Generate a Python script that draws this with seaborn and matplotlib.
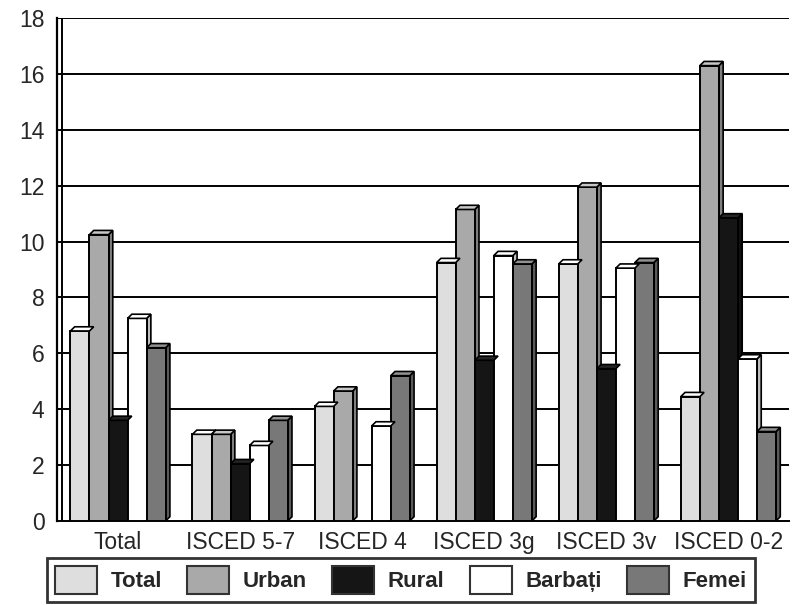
import numpy as np
import pandas as pd
import seaborn as sns
import matplotlib.pyplot as plt
from matplotlib.patches import Polygon
from matplotlib.colors import to_rgb

categories = ["Total", "ISCED 5-7", "ISCED 4", "ISCED 3g", "ISCED 3v", "ISCED 0-2"]
series = ["Total", "Urban", "Rural", "Barbați", "Femei"]
total = [6.8, 3.1, 4.1, 9.25, 9.2, 4.45]
urban = [10.25, 3.1, 4.65, 11.15, 11.95, 16.3]
rural = [3.6, 2.05, np.nan, 5.75, 5.45, 10.85]
barbati = [7.25, 2.7, 3.4, 9.5, 9.05, 5.8]
femei = [6.2, 3.6, 5.2, 9.2, 9.25, 3.2]
colors = ["#dedede", "#a9a9a9", "#151515", "#ffffff", "#787878"]

rows = []
for name, vals in zip(series, [total, urban, rural, barbati, femei]):
    for cat, v in zip(categories, vals):
        rows.append({"cat": cat, "serie": name, "val": v})
df = pd.DataFrame(rows)

sns.set_style("white")
plt.rcParams["font.family"] = ["Liberation Sans", "DejaVu Sans"]

fig = plt.figure(figsize=(7.97, 6.05), dpi=100)
ax = fig.add_axes([0.0715, 0.139, 0.919, 0.831])

sns.barplot(data=df, x="cat", y="val", hue="serie", order=categories,
            hue_order=series, palette=colors, width=0.78, saturation=1,
            edgecolor="black", linewidth=1.4, ax=ax, legend=False, zorder=3)

# gridlines on the back wall
for yv in range(2, 19, 2):
    ax.axhline(yv, color="black", lw=1.4, zorder=1)

# fake 3D: side and top faces derived from each drawn bar
dx, dy = 0.035, 0.15
for p in list(ax.patches):
    h = p.get_height()
    if not np.isfinite(h) or h == 0:
        continue
    x0, w = p.get_x(), p.get_width()
    c = np.array(to_rgb(p.get_facecolor()))
    side = Polygon([(x0 + w, 0), (x0 + w + dx, dy), (x0 + w + dx, h + dy), (x0 + w, h)],
                   closed=True, facecolor=c * 0.75, edgecolor="black", lw=1.2, zorder=2.9)
    top = Polygon([(x0, h), (x0 + dx, h + dy), (x0 + w + dx, h + dy), (x0 + w, h)],
                  closed=True, facecolor=np.minimum(c * 1.1 + 0.05, 1), edgecolor="black",
                  lw=1.2, zorder=3.1)
    ax.add_patch(side)
    ax.add_patch(top)

# back wall edge next to the y axis
ax.axvline(-0.5 + dx * 1.2, color="black", lw=1.4, zorder=1)

ax.set_xlim(-0.5, 5.5)
ax.set_ylim(0, 18)
ax.set_yticks(range(0, 19, 2))
ax.set_xticks(range(len(categories)))
ax.set_xticklabels(categories)
ax.set_xticks(np.arange(0.5, 5.5, 1), minor=True)
ax.tick_params(axis="x", which="major", length=0, labelsize=16.5, pad=7)
ax.tick_params(axis="x", which="minor", length=7, width=1.4, direction="out")
ax.tick_params(axis="y", length=6, width=1.4, direction="out", labelsize=16.5, pad=3)
ax.set_xlabel("")
ax.set_ylabel("")
for s in ["top", "right"]:
    ax.spines[s].set_visible(False)
ax.spines["left"].set_linewidth(1.6)
ax.spines["bottom"].set_linewidth(1.4)
ax.spines["left"].set_color("black")
ax.spines["bottom"].set_color("black")

handles = [plt.Rectangle((0, 0), 1, 1, facecolor=c, edgecolor="#333333", lw=1.5) for c in colors]
leg = fig.legend(handles, series, loc="upper left", ncol=5, mode="expand",
                 bbox_to_anchor=(0.059, -0.02, 0.888, 0.098), frameon=True, fancybox=False,
                 handlelength=1.9, handleheight=1.6, handletextpad=0.6, borderpad=0.35,
                 borderaxespad=0, prop={"weight": "bold", "size": 16})
leg.get_frame().set_edgecolor("black")
leg.get_frame().set_linewidth(2)

fig.savefig("out.png", dpi=100)
